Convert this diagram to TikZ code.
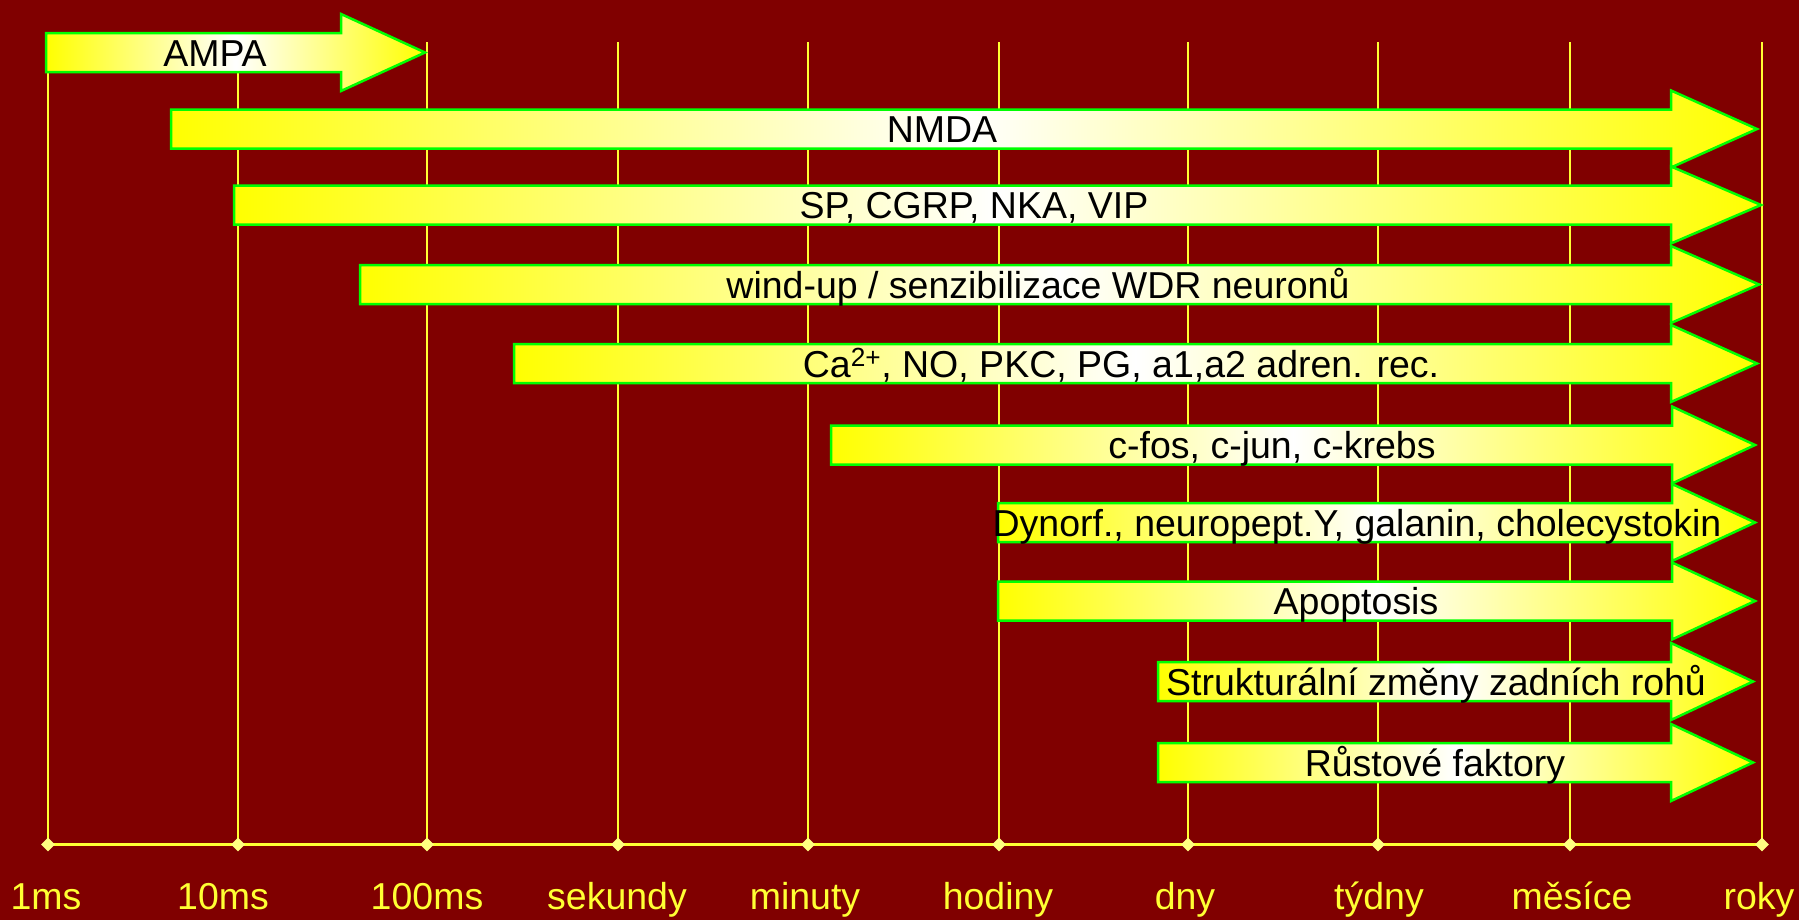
\documentclass[tikz,border=0pt]{standalone}
\usepackage{fontspec}
\setmainfont{Liberation Sans}
\usetikzlibrary{shapes.geometric, positioning}
\definecolor{bgred}{RGB}{128,0,0}
\definecolor{gridyellow}{RGB}{255,255,51}
\definecolor{tickyellow}{RGB}{255,255,128}
\definecolor{labelyellow}{RGB}{255,255,51}
\definecolor{edgegreen}{RGB}{0,255,0}

\begin{document}
\begin{tikzpicture}[
    x=0.03cm, y=-0.03cm,
    band/.style={draw=edgegreen, line width=0.075cm, left color=yellow, right color=yellow, middle color=white},
    blabel/.style={anchor=base, inner sep=0pt, text=black, font=\fontsize{32}{38}\selectfont},
    gridline/.style={draw=gridyellow, line width=0.07cm},
    timeaxis/.style={draw=gridyellow, line width=0.08cm},
    tickmark/.style={diamond, fill=tickyellow, inner sep=0pt, minimum width=0.42cm, minimum height=0.42cm},
    tlabel/.style={anchor=base, inner sep=0pt, text=labelyellow, font=\fontsize{32}{38}\selectfont}
]
% Background
\fill[bgred] (0,0) rectangle (1799,920);
\useasboundingbox (0,0) rectangle (1799,920);

% Time axis
\coordinate (a1) at (48,844.5);
\coordinate (a2) at (238,844.5);
\coordinate (a3) at (427,844.5);
\coordinate (a4) at (618,844.5);
\coordinate (a5) at (808,844.5);
\coordinate (a6) at (999,844.5);
\coordinate (a7) at (1188,844.5);
\coordinate (a8) at (1378,844.5);
\coordinate (a9) at (1570,844.5);
\coordinate (a10) at (1762,844.5);
\draw[gridline] (a1) -- (a1 |- 0,42);
\draw[gridline] (a2) -- (a2 |- 0,42);
\draw[gridline] (a3) -- (a3 |- 0,42);
\draw[gridline] (a4) -- (a4 |- 0,42);
\draw[gridline] (a5) -- (a5 |- 0,42);
\draw[gridline] (a6) -- (a6 |- 0,42);
\draw[gridline] (a7) -- (a7 |- 0,42);
\draw[gridline] (a8) -- (a8 |- 0,42);
\draw[gridline] (a9) -- (a9 |- 0,42);
\draw[gridline] (a10) -- (a10 |- 0,42);
\draw[timeaxis] (a1) -- (a10);
\node[tickmark] (t1) at (a1) {};
\node[tickmark] (t2) at (a2) {};
\node[tickmark] (t3) at (a3) {};
\node[tickmark] (t4) at (a4) {};
\node[tickmark] (t5) at (a5) {};
\node[tickmark] (t6) at (a6) {};
\node[tickmark] (t7) at (a7) {};
\node[tickmark] (t8) at (a8) {};
\node[tickmark] (t9) at (a9) {};
\node[tickmark] (t10) at (a10) {};
\node[tlabel] (l1) at (46,909) {1ms};
\node[tlabel] (l2) at (223,909) {10ms};
\node[tlabel] (l3) at (427,909) {100ms};
\node[tlabel] (l4) at (617,909) {sekundy};
\node[tlabel] (l5) at (805,909) {minuty};
\node[tlabel] (l6) at (998,909) {hodiny};
\node[tlabel] (l7) at (1185,909) {dny};
\node[tlabel] (l8) at (1379,909) {týdny};
\node[tlabel] (l9) at (1572,909) {měsíce};
\node[tlabel] (l10) at (1759,909) {roky};

% Arrows
\shade[band] (46,33) -- (341,33) -- (341,14) -- (425,52.5) -- (341,91) -- (341,72) -- (46,72) -- cycle;
\node[blabel] (ampa) at (215,66) {AMPA};
\shade[band] (171,109.5) -- (1671,109.5) -- (1671,90.5) -- (1757,129) -- (1671,167.5) -- (1671,148.5) -- (171,148.5) -- cycle;
\node[blabel] (nmda) at (942,142.5) {NMDA};
\shade[band] (234,185.5) -- (1671,185.5) -- (1671,166.5) -- (1761,205) -- (1671,243.5) -- (1671,224.5) -- (234,224.5) -- cycle;
\node[blabel] (sp) at (974,218.5) {SP, CGRP, NKA, VIP};
\shade[band] (360,265) -- (1671,265) -- (1671,246) -- (1759,284.5) -- (1671,323) -- (1671,304) -- (360,304) -- cycle;
\node[blabel] (windup) at (1038,298) {wind-up / senzibilizace WDR neuronů};
\shade[band] (514,344) -- (1671,344) -- (1671,325) -- (1757,363.5) -- (1671,402) -- (1671,383) -- (514,383) -- cycle;
\node[blabel] (ca) at (1121,377) {Ca\textsuperscript{2+}, NO, PKC, PG, a1,a2 adren. rec.};
\shade[band] (831,425.5) -- (1672,425.5) -- (1672,406.5) -- (1755,445) -- (1672,483.5) -- (1672,464.5) -- (831,464.5) -- cycle;
\node[blabel] (cfos) at (1272,458.5) {c-fos, c-jun, c-krebs};
\shade[band] (998,503) -- (1672,503) -- (1672,484) -- (1755,522.5) -- (1672,561) -- (1672,542) -- (998,542) -- cycle;
\node[blabel] (dynorf) at (1357,536) {Dynorf., neuropept.Y, galanin, cholecystokin};
\shade[band] (998,581.5) -- (1672,581.5) -- (1672,562.5) -- (1755,601) -- (1672,639.5) -- (1672,620.5) -- (998,620.5) -- cycle;
\node[blabel] (apopt) at (1356,614.5) {Apoptosis};
\shade[band] (1158,662) -- (1671,662) -- (1671,643) -- (1753,681.5) -- (1671,720) -- (1671,701) -- (1158,701) -- cycle;
\node[blabel] (strukt) at (1436,695) {Strukturální změny zadních rohů};
\shade[band] (1158,743) -- (1671,743) -- (1671,724) -- (1753,762.5) -- (1671,801) -- (1671,782) -- (1158,782) -- cycle;
\node[blabel] (rust) at (1435,776) {Růstové faktory};
\end{tikzpicture}
\end{document}
